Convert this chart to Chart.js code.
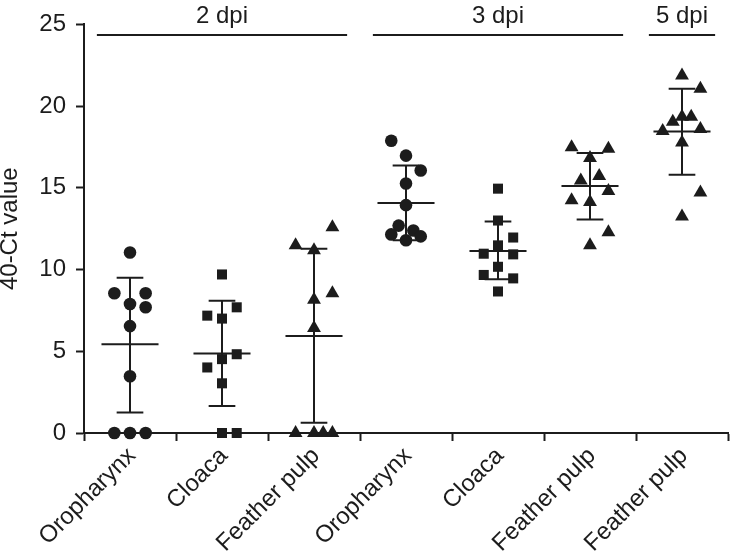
<!DOCTYPE html>
<html>
<head>
<meta charset="utf-8">
<script src="https://cdn.jsdelivr.net/npm/chart.js@4.4.1/dist/chart.umd.min.js"></script>
<style>
	html, body { margin: 0; padding: 0; background: #fff; }
</style>
</head>
<body>
<canvas id="chart" width="736" height="555"></canvas>
<script>
// categories along the x axis
const categories = ['Oropharynx', 'Cloaca', 'Feather pulp', 'Oropharynx', 'Cloaca', 'Feather pulp', 'Feather pulp'];

// day groups shown as brackets above the plot (first / last category index)
const dpiLabels = ['2 dpi', '3 dpi', '5 dpi'];
const dpiFirst = [0, 3, 6];
const dpiLast = [2, 5, 6];

// individual 40-Ct values per sample, with horizontal scatter (fraction of a category)
const oro2 = [11.04, 8.55, 8.55, 7.89, 7.69, 6.54, 3.47, 0, 0, 0];
const oro2Jitter = [0, -0.17, 0.17, 0, 0.17, 0, 0, -0.17, 0, 0.17];

const clo2 = [9.70, 7.18, 7.00, 7.69, 4.82, 4.52, 4.01, 3.04, 0, 0];
const clo2Jitter = [0, -0.16, 0, 0.16, 0.16, 0, -0.16, 0, 0, 0.16];

const fea2 = [11.48, 11.18, 12.59, 8.55, 8.15, 6.43, 0, 0, 0, 0];
const fea2Jitter = [-0.2, 0, 0.2, 0.2, 0, 0, -0.2, 0, 0.1, 0.2];

const oro3 = [17.88, 16.97, 16.06, 15.27, 13.94, 12.69, 12.39, 12.15, 12.03, 11.79];
const oro3Jitter = [-0.16, 0, 0.16, 0, 0, -0.08, 0.08, -0.16, 0.16, 0];

const clo3 = [14.95, 13.00, 11.96, 10.93, 11.48, 10.97, 10.17, 9.67, 9.46, 8.66];
const clo3Jitter = [0, 0, 0.165, 0.165, 0, -0.155, 0, -0.155, 0.165, 0];

const fea3 = [17.49, 17.39, 16.83, 15.45, 15.72, 14.81, 14.24, 14.14, 12.29, 11.48];
const fea3Jitter = [-0.2, 0.2, 0, -0.1, 0.1, 0.2, -0.2, 0, 0.2, 0];

const fea5 = [21.87, 21.07, 19.35, 19.35, 19.05, 18.48, 18.60, 17.78, 14.71, 13.24];
const fea5Jitter = [0, 0.2, 0, 0.1, -0.1, -0.21, 0.2, 0, 0.2, 0];

// mean and mean ± SD per category
const means = [5.43, 4.86, 5.93, 14.08, 11.14, 15.11, 18.44];
const sdHigh = [9.50, 8.09, 11.28, 16.36, 12.94, 17.13, 21.07];
const sdLow = [1.25, 1.65, 0.62, 11.79, 9.40, 13.06, 15.80];

// y axis
const yTicksMax = 25;
const yStep = 5;

const INK = '#1c1c1c';
const FONT = "'Liberation Sans', Arial, Helvetica, sans-serif";
const FONT_SIZE = 24;

let groups = [
	{ values: oro2, jitter: oro2Jitter, style: 'circle', radius: 6.3 },
	{ values: clo2, jitter: clo2Jitter, style: 'rect', radius: 7.1 },
	{ values: fea2, jitter: fea2Jitter, style: 'triangle', radius: 8 },
	{ values: oro3, jitter: oro3Jitter, style: 'circle', radius: 6.3 },
	{ values: clo3, jitter: clo3Jitter, style: 'rect', radius: 7.1 },
	{ values: fea3, jitter: fea3Jitter, style: 'triangle', radius: 8 },
	{ values: fea5, jitter: fea5Jitter, style: 'triangle', radius: 8 },
];

let datasets = groups.map((g, i) => ({
	type: 'scatter',
	label: categories[i],
	data: g.values.map((v, k) => ({ x: i + 0.5 + g.jitter[k], y: v })),
	xAxisID: 'xd',
	yAxisID: 'y',
	pointStyle: g.style,
	pointRadius: g.radius,
	pointHoverRadius: g.radius,
	backgroundColor: INK,
	borderColor: INK,
	borderWidth: 0,
	clip: false,
}));

// mean line + SD whiskers with caps
let errorBars = {
	id: 'errorBars',
	afterDatasetsDraw (chart) {
		let { ctx } = chart;
		let xs = chart.scales.xd;
		let ys = chart.scales.y;
		let unit = xs.getPixelForValue(1) - xs.getPixelForValue(0);
		ctx.save();
		ctx.strokeStyle = INK;
		ctx.lineWidth = 2;
		means.forEach((m, i) => {
			let cx = xs.getPixelForValue(i + 0.5);
			let yMean = ys.getPixelForValue(m);
			let yHi = ys.getPixelForValue(sdHigh[i]);
			let yLo = ys.getPixelForValue(sdLow[i]);
			ctx.beginPath();
			ctx.moveTo(cx - unit * 0.31, yMean);
			ctx.lineTo(cx + unit * 0.31, yMean);
			ctx.moveTo(cx, yHi);
			ctx.lineTo(cx, yLo);
			ctx.moveTo(cx - unit * 0.145, yHi);
			ctx.lineTo(cx + unit * 0.145, yHi);
			ctx.moveTo(cx - unit * 0.145, yLo);
			ctx.lineTo(cx + unit * 0.145, yLo);
			ctx.stroke();
		});
		ctx.restore();
	},
};

// brackets with day labels above the groups
let dpiBrackets = {
	id: 'dpiBrackets',
	afterDraw (chart) {
		let { ctx } = chart;
		let xs = chart.scales.xd;
		let ys = chart.scales.y;
		let yLine = ys.getPixelForValue(24.35);
		ctx.save();
		ctx.strokeStyle = INK;
		ctx.fillStyle = INK;
		ctx.lineWidth = 2;
		ctx.font = FONT_SIZE + 'px ' + FONT;
		ctx.textAlign = 'center';
		ctx.textBaseline = 'alphabetic';
		dpiLabels.forEach((label, i) => {
			let x0 = xs.getPixelForValue(dpiFirst[i] + 0.14);
			let x1 = xs.getPixelForValue(dpiLast[i] + 0.86);
			ctx.beginPath();
			ctx.moveTo(x0, yLine);
			ctx.lineTo(x1, yLine);
			ctx.stroke();
			ctx.fillText(label, (x0 + x1) / 2, yLine - 12.5);
		});
		ctx.restore();
	},
};

new Chart(document.getElementById('chart'), {
	type: 'scatter',
	data: { datasets },
	options: {
		responsive: false,
		animation: false,
		layout: { padding: { top: 20, right: 1, bottom: 0, left: 0 } },
		plugins: {
			legend: { display: false },
			tooltip: { enabled: false },
		},
		scales: {
			x: {
				type: 'category',
				labels: categories,
				offset: true,
				position: 'bottom',
				grid: { offset: true, drawOnChartArea: false, tickLength: 8, tickColor: INK, tickWidth: 2 },
				border: { display: true, color: INK, width: 2 },
				ticks: {
					autoSkip: false,
					minRotation: 45,
					maxRotation: 45,
					padding: 1,
					labelOffset: 2,
					color: INK,
					font: { size: FONT_SIZE, family: FONT },
				},
				afterFit: (scale) => { scale.height = 122; },
			},
			xd: {
				type: 'linear',
				min: 0,
				max: categories.length,
				display: false,
			},
			y: {
				min: 0,
				max: yTicksMax,
				ticks: {
					stepSize: yStep,
					padding: 10,
					color: INK,
					font: { size: FONT_SIZE, family: FONT },
				},
				grid: { drawOnChartArea: false, tickLength: 8, tickColor: INK, tickWidth: 2 },
				border: { display: true, color: INK, width: 2 },
				title: {
					display: true,
					text: '40-Ct value',
					color: INK,
					padding: 0,
					font: { size: FONT_SIZE, family: FONT, lineHeight: 0.85 },
				},
				afterFit: (scale) => { scale.width = 84; },
			},
		},
	},
	plugins: [ errorBars, dpiBrackets ],
});
</script>
</body>
</html>
